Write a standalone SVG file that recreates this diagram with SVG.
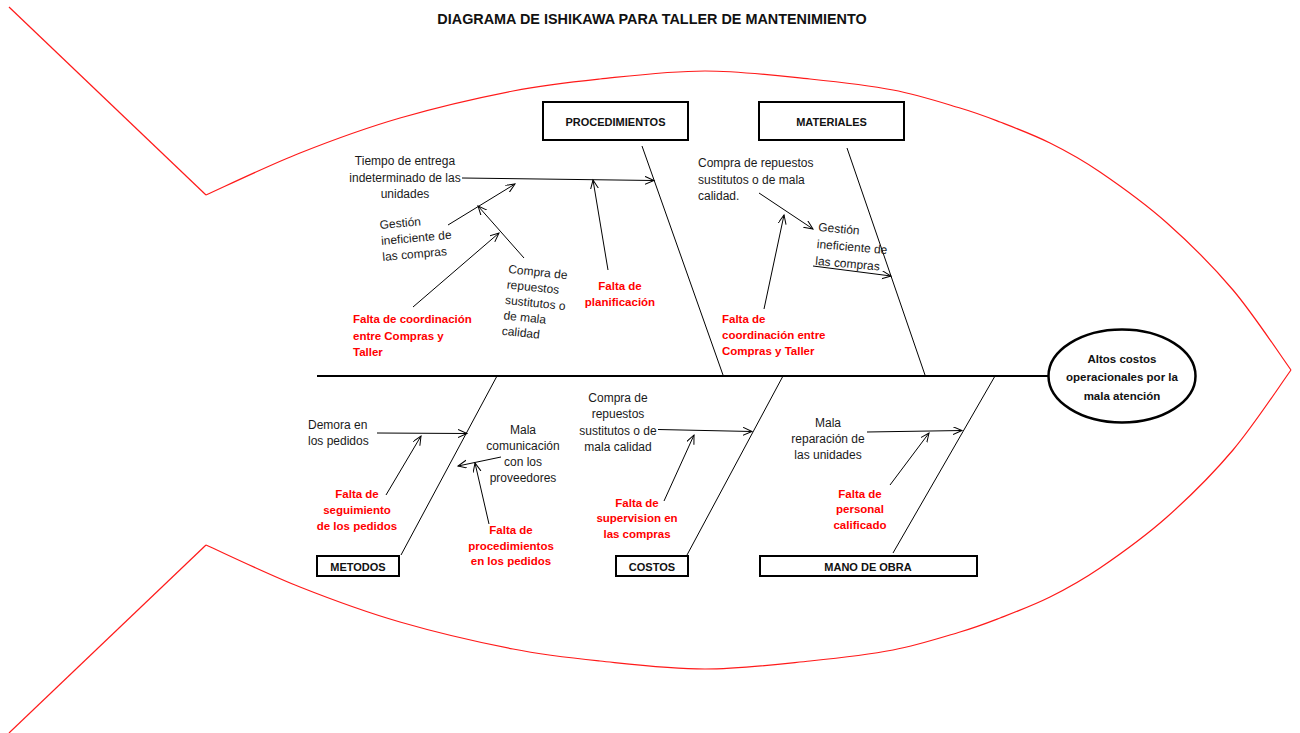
<svg xmlns="http://www.w3.org/2000/svg" xmlns:xlink="http://www.w3.org/1999/xlink" width="1300" height="733" viewBox="0 0 1300 733">
<style>
.fish{fill:none;stroke:#ff1a1a;stroke-width:1.2}
.bone{fill:none;stroke:#000;stroke-width:1}
.spine{fill:none;stroke:#000;stroke-width:2.2}
.arr{fill:none;stroke:#000;stroke-width:1;marker-end:url(#ah)}
.box{fill:#fff;stroke:#000;stroke-width:2}
.t{font-family:"Liberation Sans",Arial,sans-serif;font-size:12px;fill:#1a1a1a}
.r{font-family:"Liberation Sans",Arial,sans-serif;font-size:11.5px;font-weight:bold;fill:#ff0000}
.b{font-family:"Liberation Sans",Arial,sans-serif;font-size:11px;font-weight:bold;fill:#111}
.h{font-family:"Liberation Sans",Arial,sans-serif;font-size:11.5px;font-weight:bold;fill:#111}
.c{text-anchor:middle}
</style>
<defs>
<marker id="ah" markerUnits="userSpaceOnUse" markerWidth="12" markerHeight="10" refX="9" refY="4" orient="auto">
<path d="M0,0 L9,4 L0,8" fill="none" stroke="#000" stroke-width="1"/>
</marker>
<path id="fishTop" d="M206,195 C221.7,188 267.7,165.8 300,153 C332.3,140.2 364.5,128.3 400,118 C435.5,107.7 479.7,97.5 513,91 C546.3,84.5 568,82.3 600,79 C632,75.7 670,71 705,71 C740,71 778.7,75.8 810,79 C841.3,82.2 868,85.2 893,90 C918,94.8 942.2,102.7 960,108 C977.8,113.3 985,116.2 1000,122 C1015,127.8 1033.3,134.7 1050,143 C1066.7,151.3 1080.5,158.7 1100,172 C1119.5,185.3 1144.8,203.3 1167,223 C1189.2,242.7 1212.3,265.5 1233,290 C1253.7,314.5 1281.3,356.7 1291,370"/>
</defs>
<rect width="1300" height="733" fill="#fff"/>

<g id="fish">
<path class="fish" d="M9,7 L206,195"/>
<path class="fish" d="M206,545 L9,733"/>
<use xlink:href="#fishTop" class="fish"/>
<use xlink:href="#fishTop" class="fish" transform="matrix(1 0 0 -1 0 740)"/>
</g>

<text id="title" x="652" y="24" font-family="Liberation Sans, Arial, sans-serif" font-size="14.4" font-weight="bold" fill="#111" text-anchor="middle">DIAGRAMA DE ISHIKAWA PARA TALLER DE MANTENIMIENTO</text>

<g id="bones">
<path class="spine" d="M317,376 L1049,376"/>
<path class="bone" d="M642,146 L723,375"/>
<path class="bone" d="M847,148 L925,375"/>
<path class="bone" d="M401,555 L497,376"/>
<path class="bone" d="M687,555 L783,376"/>
<path class="bone" d="M893,553 L995,376"/>
</g>

<g id="connectors">
<path class="arr" d="M462,178 L654,180.5"/>
<path class="arr" d="M608,270 L593,180"/>
<path class="arr" d="M448,225 L515,184"/>
<path class="arr" d="M524,258 L478,206"/>
<path class="arr" d="M413,307 L499,233"/>
<path class="arr" d="M759,193 L813,229"/>
<path class="arr" d="M813,266 L891,276"/>
<path class="arr" d="M764,309 L784,215"/>
<path class="arr" d="M377,433 L467,433.5"/>
<path class="arr" d="M386,495 L421,436"/>
<path class="arr" d="M501,457 L458,466"/>
<path class="arr" d="M489,524 L475,463"/>
<path class="arr" d="M658,429.5 L752,431.5"/>
<path class="arr" d="M664,501 L694,435"/>
<path class="arr" d="M867,432 L962,430.5"/>
<path class="arr" d="M890,485 L929,433"/>
</g>

<g id="procedimientos">
<rect class="box" x="543" y="102" width="145" height="38"/>
<text class="b c" x="615.5" y="126">PROCEDIMIENTOS</text>
</g>
<g id="materiales">
<rect class="box" x="759" y="102" width="145" height="38"/>
<text class="b c" x="831.5" y="126">MATERIALES</text>
</g>
<g id="metodos">
<rect class="box" x="317" y="556" width="82" height="20"/>
<text class="b c" x="358" y="571">METODOS</text>
</g>
<g id="costos">
<rect class="box" x="616" y="556" width="72" height="20"/>
<text class="b c" x="652" y="571">COSTOS</text>
</g>
<g id="mano-de-obra">
<rect class="box" x="760" y="556" width="217" height="20"/>
<text class="b c" x="868" y="571">MANO DE OBRA</text>
</g>
<g id="efecto">
<ellipse cx="1122" cy="376" rx="73.5" ry="46.5" fill="#fff" stroke="#000" stroke-width="2.5"/>
<text class="h c" x="1122" y="362.5">Altos costos</text>
<text class="h c" x="1122" y="381">operacionales por la</text>
<text class="h c" x="1122" y="399.5">mala atención</text>
</g>

<g id="tiempo-entrega">
<text class="t c" x="405" y="165">Tiempo de entrega</text>
<text class="t c" x="405" y="181.5">indeterminado de las</text>
<text class="t c" x="405" y="197.5">unidades</text>
</g>
<g id="gestion-proc" transform="rotate(-5 380 229)">
<text class="t" x="380" y="229">Gestión</text>
<text class="t" x="380" y="245">ineficiente de</text>
<text class="t" x="380" y="261">las compras</text>
</g>
<g id="compra-proc" transform="rotate(6 508 273)">
<text class="t" x="508" y="273">Compra de</text>
<text class="t" x="508" y="288.5">repuestos</text>
<text class="t" x="508" y="304">sustitutos o</text>
<text class="t" x="508" y="319.5">de mala</text>
<text class="t" x="508" y="335">calidad</text>
</g>
<g id="falta-planificacion">
<text class="r c" x="620" y="290">Falta de</text>
<text class="r c" x="620" y="306">planificación</text>
</g>
<g id="falta-coord-proc">
<text class="r" x="353" y="323">Falta de coordinación</text>
<text class="r" x="353" y="340">entre Compras y</text>
<text class="r" x="353" y="356">Taller</text>
</g>

<g id="compra-mat">
<text class="t" x="698" y="167">Compra de repuestos</text>
<text class="t" x="698" y="183.5">sustitutos o de mala</text>
<text class="t" x="698" y="200">calidad.</text>
</g>
<g id="gestion-mat" transform="rotate(5 818 231)">
<text class="t" x="818" y="231">Gestión</text>
<text class="t" x="818" y="248">ineficiente de</text>
<text class="t" x="818" y="265">las compras</text>
</g>
<g id="falta-coord-mat">
<text class="r" x="722" y="322.5">Falta de</text>
<text class="r" x="722" y="338.5">coordinación entre</text>
<text class="r" x="722" y="354.5">Compras y Taller</text>
</g>

<g id="demora">
<text class="t" x="308" y="429">Demora en</text>
<text class="t" x="308" y="445">los pedidos</text>
</g>
<g id="falta-seguimiento">
<text class="r c" x="357" y="498">Falta de</text>
<text class="r c" x="357" y="514">seguimiento</text>
<text class="r c" x="357" y="530">de los pedidos</text>
</g>
<g id="mala-comunicacion">
<text class="t c" x="523" y="434">Mala</text>
<text class="t c" x="523" y="450">comunicación</text>
<text class="t c" x="523" y="466">con los</text>
<text class="t c" x="523" y="482">proveedores</text>
</g>
<g id="falta-procedimientos">
<text class="r c" x="511" y="533.5">Falta de</text>
<text class="r c" x="511" y="549.5">procedimientos</text>
<text class="r c" x="511" y="565">en los pedidos</text>
</g>

<g id="compra-costos">
<text class="t c" x="618" y="402">Compra de</text>
<text class="t c" x="618" y="418">repuestos</text>
<text class="t c" x="618" y="434.5">sustitutos o de</text>
<text class="t c" x="618" y="450.5">mala calidad</text>
</g>
<g id="falta-supervision">
<text class="r c" x="637" y="506.5">Falta de</text>
<text class="r c" x="637" y="522">supervision en</text>
<text class="r c" x="637" y="537.5">las compras</text>
</g>

<g id="mala-reparacion">
<text class="t c" x="828" y="427">Mala</text>
<text class="t c" x="828" y="443">reparación de</text>
<text class="t c" x="828" y="459">las unidades</text>
</g>
<g id="falta-personal">
<text class="r c" x="860" y="497.5">Falta de</text>
<text class="r c" x="860" y="513">personal</text>
<text class="r c" x="860" y="528.5">calificado</text>
</g>
</svg>
